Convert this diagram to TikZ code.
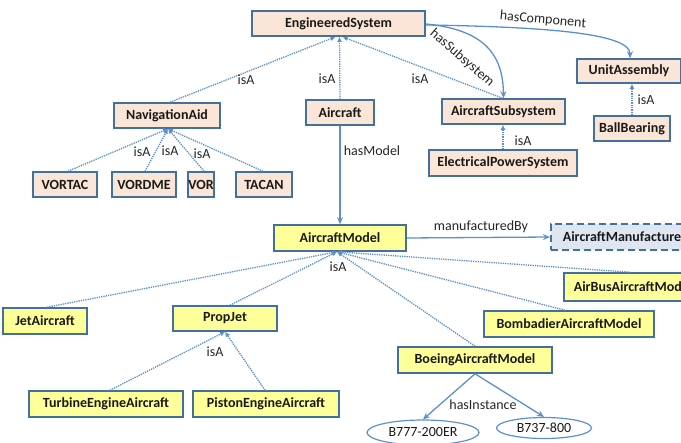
\documentclass[tikz,border=0pt]{standalone}
\usepackage{fontspec}
\setmainfont{Carlito}
\usetikzlibrary{arrows.meta,shapes.geometric}
\definecolor{peach}{HTML}{FBE5D6}
\definecolor{yel}{HTML}{FFFF99}
\definecolor{bord}{HTML}{41719C}
\definecolor{edgec}{HTML}{5B8FD0}
\definecolor{mfill}{HTML}{DEE6F2}
\tikzset{
  box/.style={draw=bord, line width=1.6bp, font=\bfseries\fontsize{14bp}{16bp}\selectfont, text=black!90, inner sep=0pt, minimum height=25bp},
  pbox/.style={box, fill=peach},
  ybox/.style={box, fill=yel},
  inst/.style={ellipse, draw=edgec, line width=1.2bp, fill=white, font=\fontsize{14bp}{16bp}\selectfont, text=black!90, inner sep=0pt},
  isa/.style={draw=edgec, densely dotted, line width=1.3bp, -{Latex[length=5bp,width=5bp]}},
  rel/.style={draw=edgec, line width=1.3bp, -{Stealth[length=7bp,width=6bp]}},
  lbl/.style={font=\fontsize{14bp}{16bp}\selectfont, text=black!85, inner sep=1bp}
}
\begin{document}
\begin{tikzpicture}[x=1bp,y=-1bp]
\useasboundingbox (0,0) rectangle (681,443);
\clip (0,0) rectangle (681,443);
% nodes
\node[pbox, minimum width=173bp] (ES) at (338.5,23.5) {EngineeredSystem};
\node[pbox, minimum width=106bp] (NA) at (167,115.5) {NavigationAid};
\node[pbox, minimum width=68bp] (AC) at (340,112.5) {Aircraft};
\node[pbox, minimum width=123bp] (AS) at (503.5,111.5) {AircraftSubsystem};
\node[pbox, minimum width=104bp, minimum height=24bp] (UA) at (629,71) {UnitAssembly};
\node[pbox, minimum width=76bp] (BB) at (632,128.5) {BallBearing};
\node[pbox, minimum width=148bp, minimum height=26bp] (EPS) at (503,163) {ElectricalPowerSystem};
\node[pbox, minimum width=64bp] (VORTAC) at (65,184.5) {VORTAC};
\node[pbox, minimum width=64bp] (VORDME) at (144,184.5) {VORDME};
\node[pbox, minimum width=26bp] (VOR) at (201,184.5) {VOR};
\node[pbox, minimum width=56bp] (TACAN) at (264,184.5) {TACAN};
\node[ybox, minimum width=132bp, minimum height=26bp] (AM) at (340,238) {AircraftModel};
\node[box, fill=mfill, dashed, dash pattern=on 7bp off 4bp, anchor=west, minimum height=26bp, inner xsep=12bp, minimum width=160bp, text width=150bp, align=left] (AMF) at (550,237) {AircraftManufacturer};
\node[ybox, anchor=west, minimum height=28bp, inner xsep=10bp, minimum width=160bp, text width=150bp, align=left] (AB) at (563,287) {AirBusAircraftModel};
\node[ybox, minimum width=170bp, minimum height=26bp] (BO) at (569,324) {BombadierAircraftModel};
\node[ybox, minimum width=154bp, minimum height=26bp] (BE) at (475,360) {BoeingAircraftModel};
\node[ybox, minimum width=84bp, minimum height=26bp] (JA) at (45,321) {JetAircraft};
\node[ybox, minimum width=104bp] (PJ) at (225,318.5) {PropJet};
\node[ybox, minimum width=154bp, minimum height=26bp] (TE) at (106,404) {TurbineEngineAircraft};
\node[ybox, minimum width=146bp, minimum height=26bp] (PE) at (266,404) {PistonEngineAircraft};
\node[inst, minimum width=112bp, minimum height=25bp] (B7) at (423,432.5) {B777-200ER};
\node[inst, minimum width=95bp, minimum height=21bp] (B3) at (544,428) {B737-800};
% isA edges to EngineeredSystem
\draw[isa] ([xshift=3bp]NA.north) -- ([xshift=-3bp]ES.south);
\draw[isa] (AC.north) -- ([xshift=1bp]ES.south);
\draw[isa] ([xshift=-1bp]AS.north) -- ([xshift=4bp]ES.south);
\node[lbl] (l1) at (246,80) {isA};
\node[lbl] (l2) at (327,79) {isA};
\node[lbl] (l3) at (420,79) {isA};
% hasSubsystem / hasComponent
\draw[rel] ([yshift=-0.5bp]ES.east) .. controls (490,30) and (503,60) .. (AS.north);
\node[lbl, rotate=-41] (l4) at (462,58) {hasSubsystem};
\draw[rel] ([yshift=-1.5bp]ES.east) .. controls (560,27) and (630,35) .. ([xshift=1bp]UA.north);
\node[lbl, rotate=-5] (l5) at (543,20) {hasComponent};
% UnitAssembly, AircraftSubsystem children
\draw[isa] (BB.north) -- (BB.north |- UA.south);
\node[lbl] (l6) at (646,100) {isA};
\draw[isa] (EPS.north) -- (EPS.north |- AS.south);
\node[lbl] (l7) at (523,141) {isA};
% NavigationAid children
\coordinate (nab) at ([xshift=1bp]NA.south);
\draw[isa] ([xshift=3bp]VORTAC.north) -- (nab);
\draw[isa] ([xshift=1bp]VORDME.north) -- (nab);
\draw[isa] ([xshift=3bp]VOR.north) -- (nab);
\draw[isa] ([xshift=-1bp]TACAN.north) -- (nab);
\node[lbl] (l8) at (142,152) {isA};
\node[lbl] (l9) at (170,151) {isA};
\node[lbl] (l10) at (202,154) {isA};
% hasModel
\draw[rel] (AC.south) -- (AM.north);
\node[lbl] (l11) at (372,151) {hasModel};
% manufacturedBy
\draw[rel] (AM.east) -- (AMF.west);
\node[lbl] (l12) at (481,227) {manufacturedBy};
% isA to AircraftModel
\coordinate (amb) at ([xshift=-3bp]AM.south);
\draw[isa] ([xshift=2bp]JA.north) -- (amb);
\draw[isa] ([xshift=5bp]PJ.north) -- (amb);
\draw[isa] ([xshift=67bp]AB.north west) -- (amb);
\draw[isa] ([xshift=-4bp]BO.north) -- (amb);
\draw[isa] (BE.north) -- (amb);
\node[lbl] (l13) at (338,267) {isA};
% PropJet children
\coordinate (pjb) at (PJ.south);
\draw[isa] ([xshift=4bp]TE.north) -- (pjb);
\draw[isa] ([xshift=-1bp]PE.north) -- (pjb);
\node[lbl] (l14) at (215,352) {isA};
% hasInstance
\draw[rel] (BE.south) -- (B7.north);
\draw[rel] (BE.south) -- (B3.north);
\node[lbl] (l15) at (483,405) {hasInstance};
\end{tikzpicture}
\end{document}
